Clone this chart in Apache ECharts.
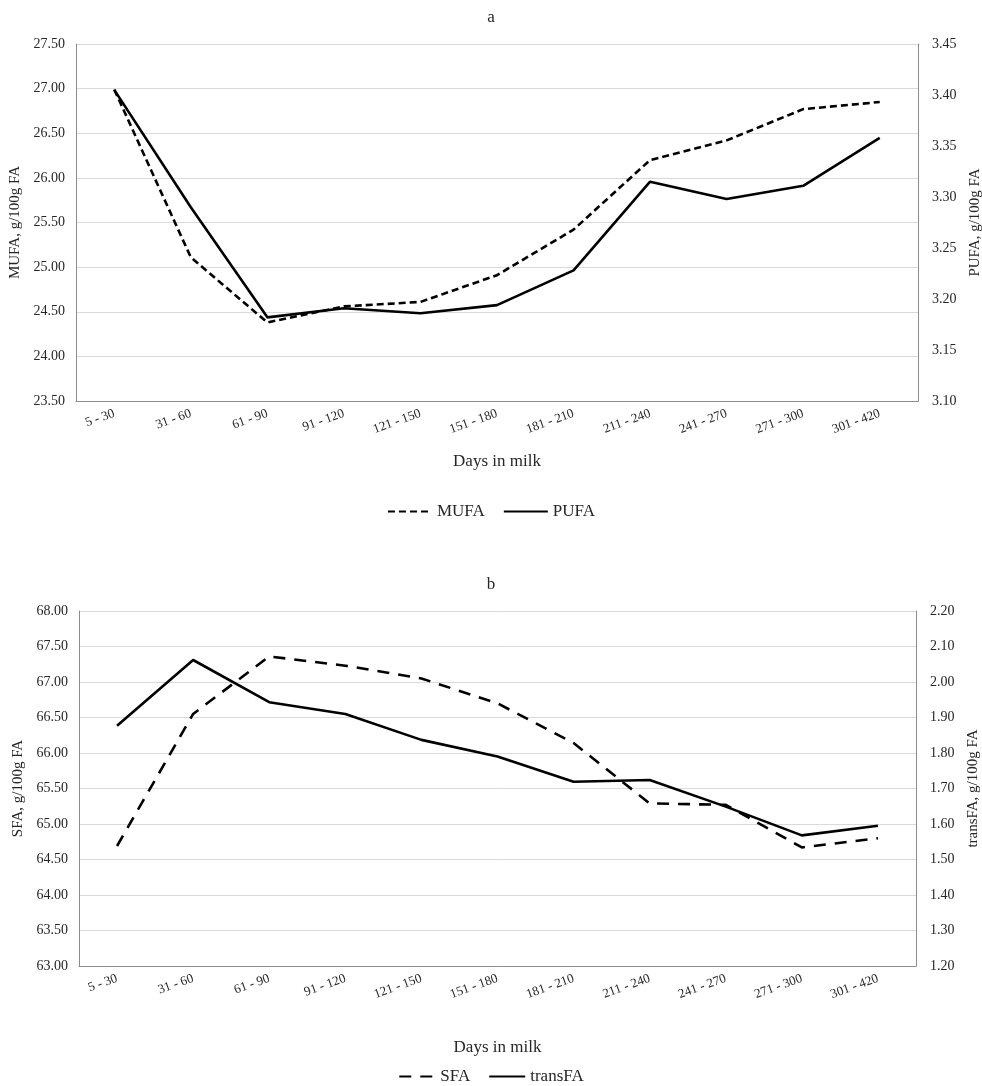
<!DOCTYPE html>
<html>
<head>
<meta charset="utf-8">
<script src="https://cdn.jsdelivr.net/npm/echarts@6/dist/echarts.min.js"></script>
<style>
  html, body { margin: 0; padding: 0; background: #fff; }
  #chart { width: 982px; height: 1086px; }
</style>
</head>
<body>
<div id="chart"></div>
<script>
// Days-in-milk classes shared by both panels
const categories = ['5 - 30', '31 - 60', '61 - 90', '91 - 120', '121 - 150', '151 - 180',
  '181 - 210', '211 - 240', '241 - 270', '271 - 300', '301 - 420'];

// Panel a: MUFA (left axis) and PUFA (right axis), g/100g FA
const mufa = [26.99, 25.11, 24.38, 24.56, 24.61, 24.91, 25.42, 26.20, 26.42, 26.77, 26.85];
const pufa = [3.405, 3.290, 3.182, 3.191, 3.186, 3.194, 3.228, 3.315, 3.298, 3.311, 3.358];

// Panel b: SFA (left axis) and transFA (right axis), g/100g FA
const sfa = [64.69, 66.55, 67.36, 67.23, 67.05, 66.70, 66.14, 65.29, 65.27, 64.67, 64.80];
const transfa = [1.877, 2.062, 1.943, 1.910, 1.837, 1.790, 1.719, 1.724, 1.649, 1.568, 1.595];

const FONT = '"Liberation Serif", "Times New Roman", serif';
const TXT = '#262626';
const AXIS_LINE = '#8c8c8c';
const GRID_LINE = '#d9d9d9';

function xAxisFor(gridIndex, nameGap) {
  return {
    type: 'category', gridIndex, data: categories, boundaryGap: true,
    name: 'Days in milk', nameLocation: 'middle', nameGap,
    nameTextStyle: { fontFamily: FONT, fontSize: 17, color: TXT },
    axisLine: { lineStyle: { color: AXIS_LINE, width: 1 } },
    axisTick: { show: false },
    axisLabel: { interval: 0, rotate: 20, fontFamily: FONT, fontSize: 13, color: TXT, margin: 12 },
    splitLine: { show: false }
  };
}

function yAxisFor(gridIndex, position, min, max, interval, digits, name, nameGap, showSplit) {
  return {
    type: 'value', gridIndex, position, min, max, interval,
    name, nameLocation: 'middle', nameGap, nameRotate: 90,
    nameTextStyle: { fontFamily: FONT, fontSize: 15, color: TXT },
    axisLine: { show: true, lineStyle: { color: AXIS_LINE, width: 1 } },
    axisTick: { show: false },
    axisLabel: {
      fontFamily: FONT, fontSize: 14, color: TXT, margin: position === 'left' ? 11 : 14,
      formatter: v => v.toFixed(digits)
    },
    splitLine: { show: showSplit, lineStyle: { color: GRID_LINE, width: 1 } }
  };
}

function lineSeries(name, data, xi, yi, dash) {
  return {
    name, type: 'line', data, xAxisIndex: xi, yAxisIndex: yi,
    symbol: 'none', smooth: false,
    lineStyle: { color: '#000', width: 2.6, type: dash || 'solid' },
    itemStyle: { color: '#000' },
    z: name === 'PUFA' || name === 'transFA' ? 3 : 4
  };
}

const legendBase = {
  left: 'center', itemHeight: 10, itemGap: 18,
  itemStyle: { opacity: 0 },
  textStyle: { fontFamily: FONT, fontSize: 17, color: TXT }
};

const chart = echarts.init(document.getElementById('chart'), null, { renderer: 'canvas' });

chart.setOption({
  backgroundColor: '#fff',
  animation: false,
  title: [
    { text: 'a', left: 'center', top: 4, textStyle: { fontFamily: FONT, fontSize: 17, fontWeight: 'normal', color: TXT } },
    { text: 'b', left: 'center', top: 571, textStyle: { fontFamily: FONT, fontSize: 17, fontWeight: 'normal', color: TXT } }
  ],
  legend: [
    Object.assign({ data: ['MUFA', 'PUFA'], top: 498, itemWidth: 44 }, legendBase),
    Object.assign({ data: ['SFA', 'transFA'], top: 1063, itemWidth: 36 }, legendBase)
  ],
  grid: [
    { left: 76, right: 64, top: 44, height: 357, outerBoundsMode: 'none', containLabel: false },
    { left: 79, right: 66, top: 611, height: 355, outerBoundsMode: 'none', containLabel: false }
  ],
  xAxis: [xAxisFor(0, 52), xAxisFor(1, 73)],
  yAxis: [
    yAxisFor(0, 'left', 23.5, 27.5, 0.5, 2, 'MUFA, g/100g FA', 47, true),
    yAxisFor(0, 'right', 3.10, 3.45, 0.05, 2, 'PUFA, g/100g FA', 47, false),
    yAxisFor(1, 'left', 63, 68, 0.5, 2, 'SFA, g/100g FA', 46, true),
    yAxisFor(1, 'right', 1.2, 2.2, 0.1, 2, 'transFA, g/100g FA', 48, false)
  ],
  series: [
    lineSeries('MUFA', mufa, 0, 0, [7, 4]),
    lineSeries('PUFA', pufa, 0, 1),
    lineSeries('SFA', sfa, 1, 2, [12, 9]),
    lineSeries('transFA', transfa, 1, 3)
  ]
});
</script>
</body>
</html>
